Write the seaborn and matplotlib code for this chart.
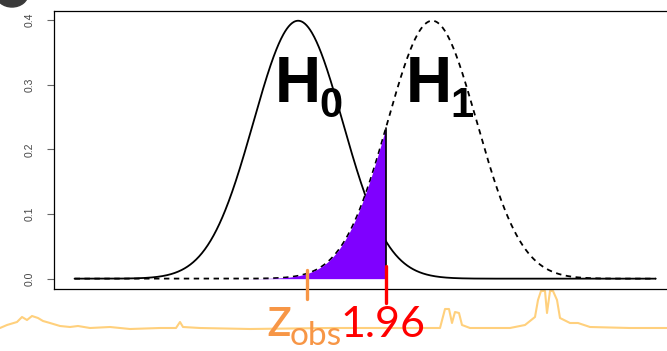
import numpy as np
import pandas as pd
import matplotlib
matplotlib.use("Agg")
import matplotlib.pyplot as plt
from matplotlib.patches import Ellipse
import seaborn as sns

# hypotheses: H0 ~ N(0,1), H1 ~ N(3,1)
mu_h0 = 0.0
mu_h1 = 3.0
sd = 1.0
x_lo, x_hi = -5, 8
crit = 1.96
z_obs = 0.2
y_ticks = [0.0, 0.1, 0.2, 0.3, 0.4]

# faint orange trace under the plot (pixels)
wave_x = [0, 7, 17, 22, 27, 32, 38, 43, 50, 60, 70, 78, 90, 110, 130, 160, 176, 180, 183,
          200, 250, 330, 440, 445, 449, 452, 455, 459, 462, 470, 510, 525, 535, 538, 541,
          545, 547, 550, 553, 557, 560, 570, 578, 590, 630, 667]
wave_y = [328, 325, 322, 317, 320, 316, 318, 321, 323, 326, 327, 326, 328, 327, 329, 328, 328,
          322, 327, 328, 329, 328, 328, 309, 309, 323, 312, 313, 325, 328, 328, 325, 317, 300,
          291, 291, 313, 291, 291, 300, 318, 323, 323, 327, 328, 328]


def dnorm(x, mu):
    return np.exp(-0.5 * ((x - mu) / sd) ** 2) / (sd * np.sqrt(2 * np.pi))


xs = np.linspace(x_lo, x_hi, 1000)
df = pd.DataFrame({"x": np.concatenate([xs, xs]),
                   "dens": np.concatenate([dnorm(xs, mu_h0), dnorm(xs, mu_h1)]),
                   "hyp": ["H0"] * len(xs) + ["H1"] * len(xs)})

sns.set_style("white")
plt.rcParams["font.family"] = ["Liberation Sans", "DejaVu Sans"]

W, H = 667, 351
fig = plt.figure(figsize=(W / 100, H / 100), dpi=100)


def fx(px):
    return px / W


def fy(py):
    return 1 - py / H


# background overlay in pixel coordinates
bg = fig.add_axes([0, 0, 1, 1], zorder=0)
bg.set_xlim(0, W)
bg.set_ylim(H, 0)
bg.axis("off")
bg.plot(wave_x, wave_y, color="#FFC55C", lw=1.5, alpha=0.8)
bg.add_patch(Ellipse((12, -6), 32, 26, color="#3a3a3a"))

ax = fig.add_axes([fx(54), fy(289), (679 - 54) / W, (289 - 11) / H], zorder=1)
ax.patch.set_alpha(0)

sns.lineplot(data=df, x="x", y="dens", hue="hyp", style="hyp",
             palette={"H0": "black", "H1": "black"},
             dashes={"H0": "", "H1": (3, 2.5)}, lw=1.3, legend=False, ax=ax)

# shaded area under H1 left of the critical value
xf = xs[xs <= crit]
ax.fill_between(np.append(xf, crit), 0, dnorm(np.append(xf, crit), mu_h1),
                color="#7F00FF", lw=0, zorder=3)
ax.plot([crit, crit], [0, dnorm(crit, mu_h1)], color="black", lw=1.2, zorder=4)

ax.set_xlim(-5.46, 8.52)
ax.set_ylim(-0.016, 0.414)
ax.set_xticks([])
ax.set_yticks(y_ticks)
ax.set_yticklabels([f"{v:.1f}" for v in y_ticks], rotation=90, va="center",
                   fontsize=7.5, color="#444444")
ax.tick_params(axis="y", length=5, width=0.8, color="#666666", pad=9, left=True)
ax.set_xlabel("")
ax.set_ylabel("")
for s in ax.spines.values():
    s.set_color("black")
    s.set_linewidth(0.9)

# markers for z_obs and critical value
ax.plot([z_obs, z_obs], [0.013, -0.032], color="#F79646", lw=2.4, clip_on=False, zorder=5)
ax.plot([crit, crit], [0.019, -0.038], color="#FF0000", lw=2.4, clip_on=False, zorder=5)

# labels
fig.text(fx(275), fy(102), "H", fontsize=46, fontweight="bold", color="black", va="baseline")
fig.text(fx(319), fy(117), "0", fontsize=30, fontweight="bold", color="black", va="baseline")
fig.text(fx(406), fy(102), "H", fontsize=46, fontweight="bold", color="black", va="baseline")
fig.text(fx(450), fy(117), "1", fontsize=30, fontweight="bold", color="black", va="baseline")

fig.text(fx(266), fy(336), "z", fontsize=40, color="#F79646", va="baseline", family="Lato")
fig.text(fx(290), fy(345), "obs", fontsize=24, color="#F79646", va="baseline", family="Lato")
fig.text(fx(340), fy(337), "1.96", fontsize=31, color="#FF0000", va="baseline", family="Lato")

fig.savefig("out.png", dpi=100)
